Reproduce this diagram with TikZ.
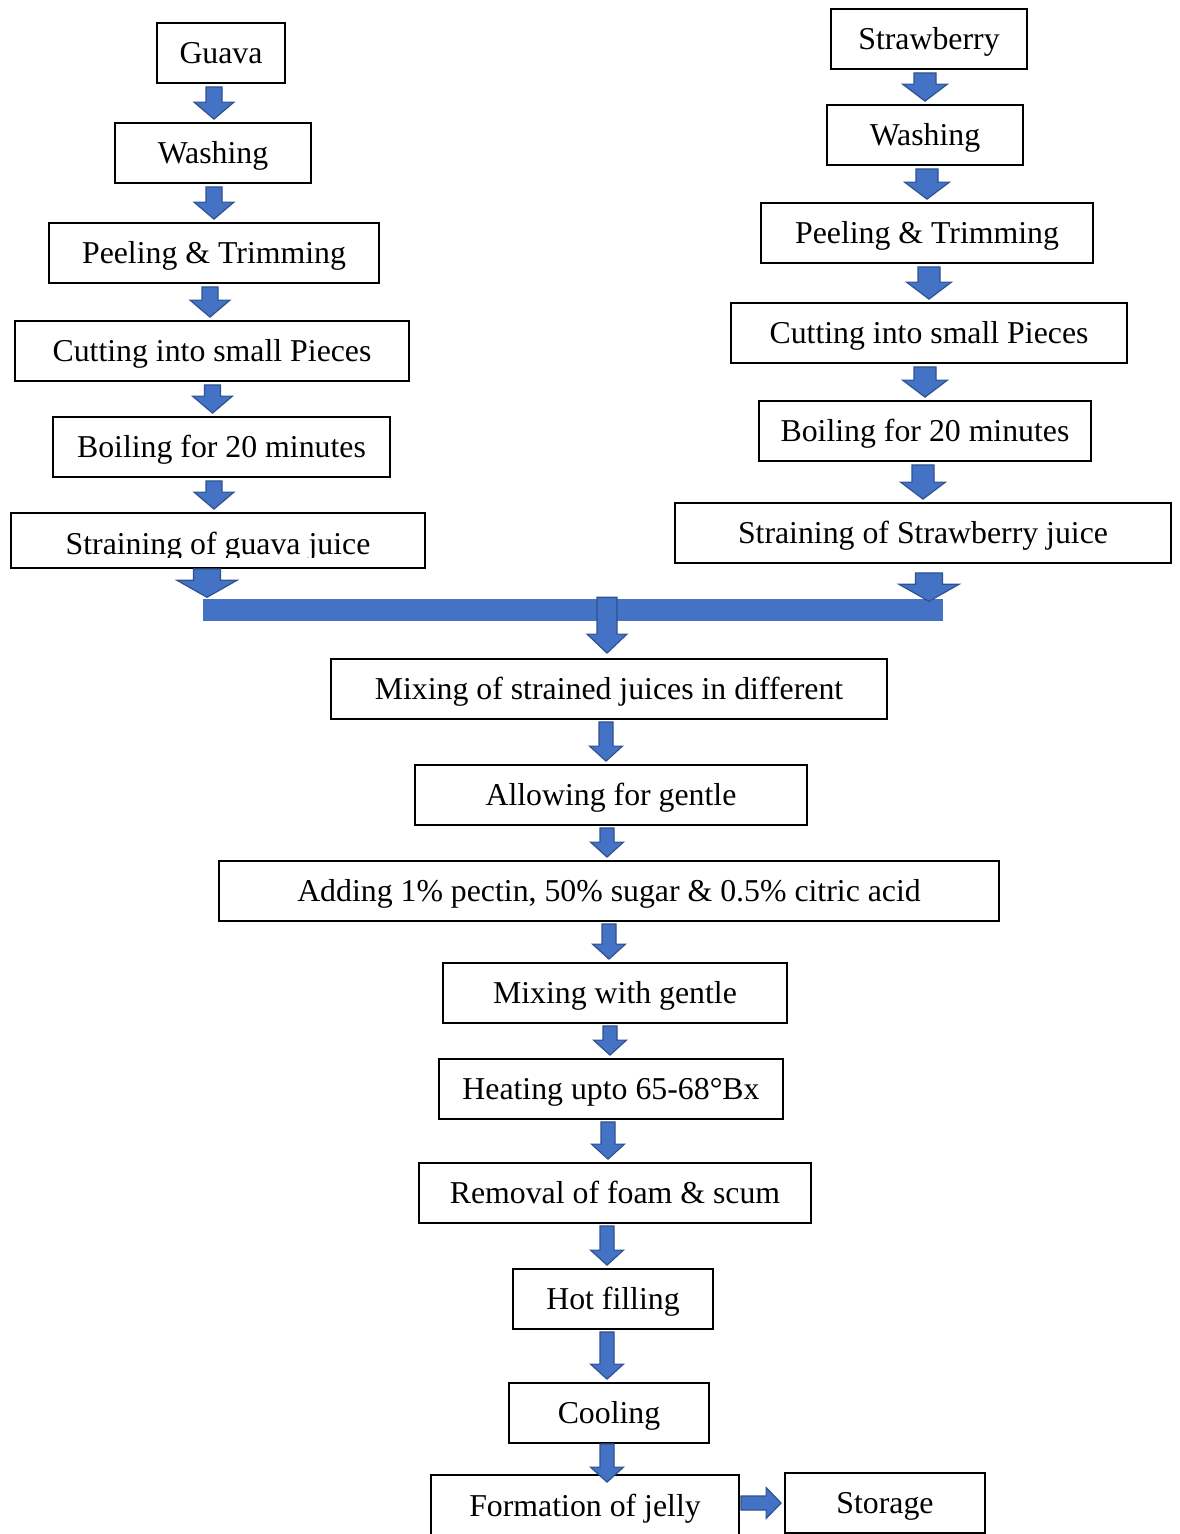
\documentclass[tikz,border=0pt]{standalone}
\usepackage{fontspec}
\setmainfont{Liberation Serif}
\usetikzlibrary{calc}

\definecolor{arrowfill}{HTML}{4472C4}
\definecolor{arrowedge}{HTML}{2F528F}

\tikzset{
  box/.style={draw, line width=1.8pt, minimum height=60pt, inner sep=0pt,
    text height=26pt, text depth=6pt, font=\fontsize{31.8pt}{38pt}\selectfont},
  arrow size/.code args={#1/#2/#3}{\def\shaftw{#1pt}\def\headw{#2pt}\def\headl{#3pt}},
  gap start/.code={\def\gapA{#1pt}},
  gap end/.code={\def\gapB{#1pt}},
  arrow size=16/40/17, gap start=3, gap end=3,
  % block arrow pointing down, drawn at the x of the target
  flow/.style={fill=arrowfill, draw=arrowedge, line width=1.2pt, line join=miter,
    to path={let \p1=(\tikztostart), \p2=(\tikztotarget) in
      (\x2-\shaftw/2,\y1-\gapA) -- (\x2+\shaftw/2,\y1-\gapA)
      -- (\x2+\shaftw/2,\y2+\gapB+\headl) -- (\x2+\headw/2,\y2+\gapB+\headl)
      -- (\x2,\y2+\gapB) -- (\x2-\headw/2,\y2+\gapB+\headl)
      -- (\x2-\shaftw/2,\y2+\gapB+\headl) -- cycle}},
  % block arrow pointing right
  flowh/.style={fill=arrowfill, draw=arrowedge, line width=1.2pt, line join=miter,
    to path={let \p1=(\tikztostart), \p2=(\tikztotarget) in
      (\x1+\gapA,\y2+\shaftw/2) -- (\x2-\gapB-\headl,\y2+\shaftw/2)
      -- (\x2-\gapB-\headl,\y2+\headw/2) -- (\x2-\gapB,\y2)
      -- (\x2-\gapB-\headl,\y2-\headw/2) -- (\x2-\gapB-\headl,\y2-\shaftw/2)
      -- (\x1+\gapA,\y2-\shaftw/2) -- cycle}},
}

\begin{document}
\begin{tikzpicture}[x=1pt, y=1pt]
  \useasboundingbox (0,0) rectangle (1179,-1534);

  % --- GUAVA ---
  \node[box, minimum width=128pt] (g1) at (221,-53) {Guava};
  \node[box, minimum width=196pt] (g2) at (213,-153) {Washing};
  \node[box, minimum width=330pt] (g3) at (214,-253) {Peeling \& Trimming};
  \node[box, minimum width=394pt] (g4) at (212,-351) {Cutting into small Pieces};
  \node[box, minimum width=337pt] (g5) at (221.5,-447) {Boiling for 20 minutes};
  \node[box, minimum width=414pt, minimum height=55pt] (g6) at (218,-540.5) {};
  % text of the last box is cut by its frame
  \begin{scope}
    \clip (g6.north west) rectangle ([yshift=11pt]g6.south east);
    \node[anchor=base, font=\fontsize{31.8pt}{38pt}\selectfont] (g6t) at (218,-554) {Straining of guava juice};
  \end{scope}

  % --- STRAWBERRY ---
  \node[box, minimum width=196pt] (s1) at (929,-39) {Strawberry};
  \node[box, minimum width=196pt] (s2) at (925,-135) {Washing};
  \node[box, minimum width=332pt] (s3) at (927,-233) {Peeling \& Trimming};
  \node[box, minimum width=396pt] (s4) at (929,-333) {Cutting into small Pieces};
  \node[box, minimum width=332pt] (s5) at (925,-431) {Boiling for 20 minutes};
  \node[box, minimum width=496pt] (s6) at (923,-533) {Straining of Strawberry juice};

  % --- MERGE BAR ---
  \node[fill=arrowfill, minimum width=740pt, minimum height=22pt, inner sep=0pt] (bar) at (573,-609.5) {};

  % --- JELLY ---
  \node[box, minimum width=556pt] (m1) at (609,-689) {Mixing of strained juices in different};
  \node[box, minimum width=392pt] (m2) at (611,-795) {Allowing for gentle};
  \node[box, minimum width=780pt] (m3) at (609,-891) {Adding 1\% pectin, 50\% sugar \& 0.5\% citric acid};
  \node[box, minimum width=344pt] (m4) at (615,-993) {Mixing with gentle};
  \node[box, minimum width=344pt] (m5) at (611,-1089) {Heating upto 65-68°Bx};
  \node[box, minimum width=392pt] (m6) at (615,-1193) {Removal of foam \& scum};
  \node[box, minimum width=200pt] (m7) at (613,-1299) {Hot filling};
  \node[box, minimum width=200pt] (m8) at (609,-1413) {Cooling};
  \node[box, minimum width=308pt, minimum height=62pt] (m9) at (585,-1506) {Formation of jelly};
  \node[box, minimum width=200pt] (store) at (885,-1503) {Storage};

  % --- ARROWS ---
  \foreach \a/\b/\dx in {g1/g2/1, g2/g3/0, g3/g4/-2, g4/g5/-9, g5/g6/-4}
    \draw[flow] (\a.south) to ([xshift=\dx pt]\b.north);
  \foreach \a/\b in {s1/s2, s2/s3, s3/s4, s4/s5, s5/s6}
    \draw[flow, arrow size=22/45/17] (\a.south) to (\b.north);

  \draw[flow, arrow size=27/60/17, gap start=0, gap end=1]
    ([xshift=-11pt]g6.south) to ([xshift=-11pt]g6.south |- bar.north);
  \draw[flow, arrow size=27/60/17, gap start=9, gap end=-3]
    ([xshift=6pt]s6.south) to ([xshift=6pt]s6.south |- bar.north);
  \draw[flow, arrow size=20/40/19, gap start=-1, gap end=5]
    ([xshift=-2pt]m1.north |- bar.north) to ([xshift=-2pt]m1.north);

  \foreach \a/\b/\dx in {m1/m2/-5, m2/m3/-2, m3/m4/-6, m4/m5/-1, m5/m6/-7, m6/m7/-6, m7/m8/-2}
    \draw[flow, arrow size=14/33/15, gap start=2, gap end=3] (\a.south) to ([xshift=\dx pt]\b.north);
  \draw[flow, arrow size=14/33/15, gap start=0, gap end=-8] ([xshift=-2pt]m8.south) to ([xshift=-2pt]m8.south |- m9.north);

  \draw[flowh, arrow size=14/31/15, gap start=1, gap end=3] (m9.east) to (store.west);

\end{tikzpicture}
\end{document}
